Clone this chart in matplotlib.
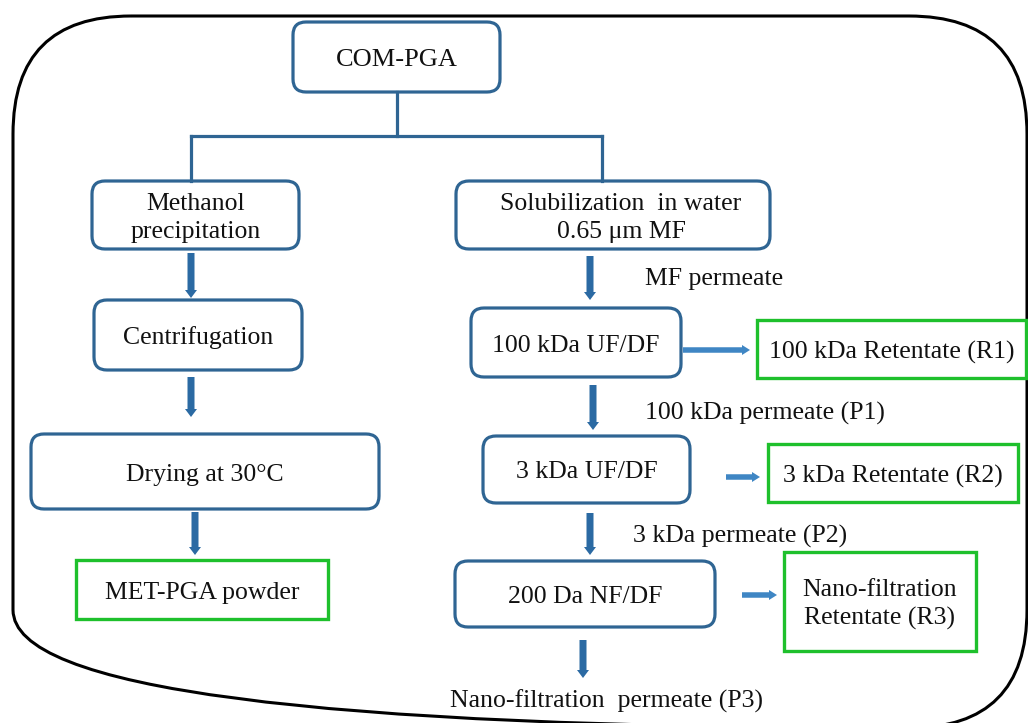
import matplotlib.pyplot as plt
from matplotlib.patches import FancyBboxPatch, FancyArrow

plt.rcParams['font.family'] = ['Liberation Serif', 'DejaVu Serif']

# process steps (blue rounded boxes)
step_labels = ["COM-PGA", "Methanol\nprecipitation", "Centrifugation", "Drying at 30°C",
               "Solubilization  in water\n0.65 μm MF", "100 kDa UF/DF", "3 kDa UF/DF",
               "200 Da NF/DF"]
step_boxes = [(293, 22, 207, 70), (92, 181, 207, 68), (94, 300, 208, 70), (31, 434, 348, 75),
              (456, 181, 314, 68), (471, 308, 210, 69), (483, 436, 207, 67), (455, 561, 260, 66)]

# products (green boxes)
product_labels = ["MET-PGA powder", "100 kDa Retentate (R1)", "3 kDa Retentate (R2)",
                  "Nano-filtration\nRetentate (R3)"]
product_boxes = [(76, 560, 252, 59), (757, 320, 269, 58), (768, 444, 250, 58), (784, 552, 192, 99)]

# stream labels
stream_labels = ["MF permeate", "100 kDa permeate (P1)", "3 kDa permeate (P2)"]
stream_pos = [(645, 276), (645, 410), (633, 533)]
final_label = "Nano-filtration  permeate (P3)"

down_arrows = [(191, 253, 298), (191, 377, 417), (195, 512, 555),
               (590, 256, 300), (593, 385, 430), (590, 513, 555), (583, 640, 678)]
right_arrows = [(683, 750, 350), (726, 760, 477), (742, 777, 595)]

blue = "#2f6593"
arrow_blue = "#2b6aa3"
light_arrow = "#3f86c4"
green = "#1ec02c"
fs = 18.5
dy = 3  # baseline nudge so text sits like the original

fig = plt.figure(figsize=(10.28, 7.23), dpi=100)
ax = fig.add_axes([0, 0, 1, 1])
ax.set_xlim(0, 1028)
ax.set_ylim(723, 0)
ax.axis("off")

# outer frame
ax.add_patch(FancyBboxPatch((13, 16), 1014, 712, boxstyle="round,pad=0,rounding_size=118",
                            fc="none", ec="black", lw=2.2))

for i, (lab, (x, y, w, h)) in enumerate(zip(step_labels, step_boxes)):
    ax.add_patch(FancyBboxPatch((x, y), w, h, boxstyle="round,pad=0,rounding_size=13",
                                fc="white", ec=blue, lw=2.3))
    dx = 8 if i == 4 else 0
    ax.text(x + w / 2 + dx, y + h / 2 + dy, lab, ha="center", va="center",
            fontsize=19 if i == 0 else fs, linespacing=1.3, color="#111111")

for lab, (x, y, w, h) in zip(product_labels, product_boxes):
    ax.add_patch(plt.Rectangle((x, y), w, h, fc="white", ec=green, lw=2.4))
    ax.text(x + w / 2, y + h / 2 + dy, lab, ha="center", va="center", fontsize=fs,
            linespacing=1.3, color="#111111")

for lab, (x, y) in zip(stream_labels, stream_pos):
    ax.text(x, y + dy, lab, ha="left", va="center", fontsize=fs, color="#111111")
ax.text(450, 698 + dy, final_label, ha="left", va="center", fontsize=fs, color="#111111")

# connector tree from COM-PGA
ax.plot([397, 397], [92, 136], color=blue, lw=2.3)
ax.plot([191, 602], [136, 136], color=blue, lw=2.3)
ax.plot([191, 191], [136, 181], color=blue, lw=2.3)
ax.plot([602, 602], [136, 181], color=blue, lw=2.3)

for x, y0, y1 in down_arrows:
    ax.add_patch(FancyArrow(x, y0, 0, y1 - y0, width=7, head_width=12, head_length=8,
                            length_includes_head=True, color=arrow_blue, lw=0))
for x0, x1, y in right_arrows:
    ax.add_patch(FancyArrow(x0, y, x1 - x0, 0, width=5.5, head_width=10, head_length=8,
                            length_includes_head=True, color=light_arrow, lw=0))

fig.savefig("out.png", dpi=100)
